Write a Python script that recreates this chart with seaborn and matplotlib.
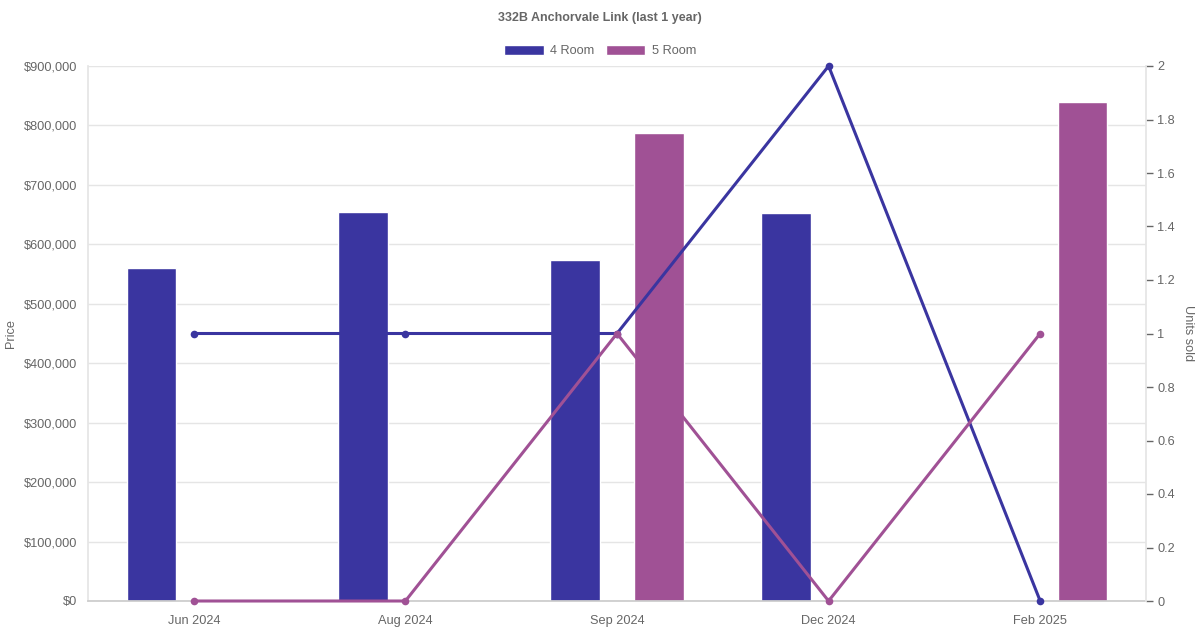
import pandas as pd
import numpy as np
import matplotlib
matplotlib.use("Agg")
import matplotlib.pyplot as plt
import seaborn as sns
from matplotlib.patches import Patch
from matplotlib.ticker import FuncFormatter

months = ["Jun 2024", "Aug 2024", "Sep 2024", "Dec 2024", "Feb 2025"]
flat_types = ["4 Room", "5 Room"]

# median price per month (NaN = no sale)
price_4room = [560000, 654000, 574000, 652000, np.nan]
price_5room = [np.nan, np.nan, 787000, np.nan, 839000]

# units sold per month
units_4room = [1, 1, 1, 2, 0]
units_5room = [0, 0, 1, 0, 1]

colors = {"4 Room": "#3a35a0", "5 Room": "#a05195"}
grey = "#666666"
grid_c = "#e5e5e5"

sns.set_theme(style="white")
plt.rcParams["font.family"] = ["Liberation Sans", "DejaVu Sans"]

df_price = pd.DataFrame({
    "month": months * 2,
    "type": ["4 Room"] * 5 + ["5 Room"] * 5,
    "price": price_4room + price_5room,
})

fig = plt.figure(figsize=(12, 6.3), dpi=100)
ax_w = (1146 - 88) / 1200
ax_h = (601 - 66) / 630
ax = fig.add_axes([88 / 1200, 1 - 601 / 630, ax_w, ax_h])

sns.barplot(
    data=df_price, x="month", y="price", hue="type",
    order=months, hue_order=flat_types, palette=colors,
    width=0.8, gap=0.41, ax=ax, legend=False, saturation=1,
)
ax.set_xlim(-0.5, 4.5)
ax.set_ylim(0, 900000)
ax.set_yticks(np.arange(0, 900001, 100000))
ax.yaxis.set_major_formatter(FuncFormatter(lambda v, p: f"${v:,.0f}"))
ax.grid(axis="y", color=grid_c, linewidth=1)
ax.set_axisbelow(True)
ax.set_xlabel("")
ax.set_ylabel("Price", color=grey, fontsize=9.2, va="center")
ax.yaxis.set_label_coords(-(88 - 11) / 1200 / ax_w, 0.5)
ax.tick_params(axis="both", colors=grey, labelsize=9.2, length=0)
ax.tick_params(axis="x", pad=10)
ax.tick_params(axis="y", pad=8)
for s in ["top", "right"]:
    ax.spines[s].set_visible(False)
ax.spines["left"].set_color(grid_c)
ax.spines["bottom"].set_color("#cccccc")

ax2 = ax.twinx()
x_pos = np.arange(len(months))
for units, t in [(units_4room, "4 Room"), (units_5room, "5 Room")]:
    sns.lineplot(x=x_pos, y=units, ax=ax2, color=colors[t],
                 linewidth=2.2, marker="o", markersize=5.5, markeredgewidth=0,
                 clip_on=False)
ax2.set_ylim(0, 2)
ax2.set_yticks(np.arange(0, 2.01, 0.2))
ax2.yaxis.set_major_formatter(FuncFormatter(lambda v, p: f"{v:g}"))
ax2.set_ylabel("Units sold", color=grey, fontsize=9.2, rotation=270, va="center")
ax2.yaxis.set_label_coords(1 + (1188 - 1146) / 1200 / ax_w, 0.5)
ax2.tick_params(axis="y", colors=grey, labelsize=9.2, length=5, width=1, pad=3)
for t in ax2.yaxis.get_ticklines():
    t.set_color(grid_c)
for s in ["top", "left", "bottom"]:
    ax2.spines[s].set_visible(False)
ax2.spines["right"].set_color(grid_c)
ax2.set_xlim(-0.5, 4.5)

fig.text(0.5, 1 - 18 / 630, "332B Anchorvale Link (last 1 year)", ha="center", va="center",
         fontsize=9, fontweight="bold", color=grey)
handles = [Patch(facecolor=colors[t], label=t) for t in flat_types]
fig.legend(handles=handles, loc="center", bbox_to_anchor=(0.5, 1 - 51 / 630), ncol=2,
           frameon=False, fontsize=9.2, labelcolor=grey, handlelength=3.1, handleheight=0.9,
           columnspacing=0.9, handletextpad=0.5)

fig.savefig("out.png", dpi=100)
